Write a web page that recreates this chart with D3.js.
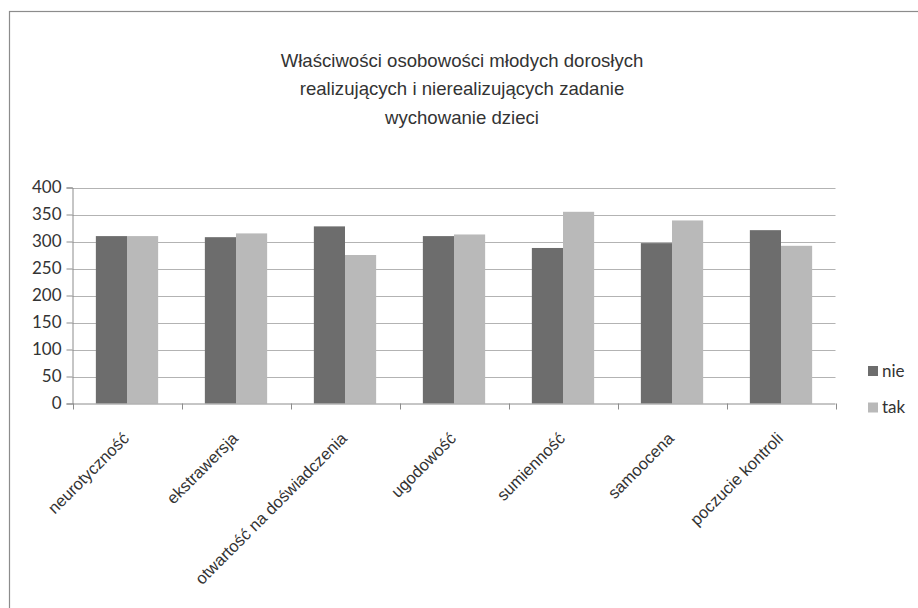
<!DOCTYPE html>
<html><head><meta charset="utf-8">
<script src="https://cdn.jsdelivr.net/npm/d3@7/dist/d3.min.js"></script>
<style>body{margin:0;background:#fff}svg{display:block}</style>
</head><body>
<svg id="c" width="918" height="608"></svg>
<script>
const categories = ["neurotyczność","ekstrawersja","otwartość na doświadczenia","ugodowość","sumienność","samoocena","poczucie kontroli"];
const seriesNames = ["nie","tak"];
const nieValues = [310,308,328,310,288,297,321];
const takValues = [310,315,275,313,355,339,292];
const yTicks = [0,50,100,150,200,250,300,350,400];
const titleLines = ["Właściwości osobowości młodych dorosłych","realizujących i nierealizujących zadanie","wychowanie dzieci"];
const colors = ["#6d6d6d","#b9b9b9"];

const svg = d3.select("#c");
const pL = 72.5, pR = 835.5, pT = 187.5, pB = 403.5;

svg.append("rect").attr("x",9.5).attr("y",11.5).attr("width",1000).attr("height",1000)
  .attr("fill","none").attr("stroke","#8c8c8c").attr("stroke-width",1.2);

const x = d3.scaleBand().domain(categories).range([pL,pR]).padding(0);
const barW = x.bandwidth()/3.5;
const xs = d3.scaleBand().domain(seriesNames).range([0, barW*2]);
const y = d3.scaleLinear().domain([0,400]).range([pB,pT]);

// gridlines
svg.append("g").selectAll("line").data(yTicks.filter(d=>d>0)).join("line")
  .attr("x1",pL).attr("x2",pR).attr("y1",d=>Math.round(y(d))+0.5).attr("y2",d=>Math.round(y(d))+0.5)
  .attr("stroke","#b3b3b3").attr("stroke-width",1);

// bars
const data = categories.map((c,i)=>({c, vals:[nieValues[i], takValues[i]]}));
const g = svg.append("g").selectAll("g").data(data).join("g")
  .attr("transform",d=>`translate(${x(d.c) + x.bandwidth()*0.75/3.5},0)`);
g.selectAll("rect").data(d=>d.vals.map((v,j)=>({v,s:seriesNames[j],j}))).join("rect")
  .attr("x",d=>xs(d.s)).attr("width",xs.bandwidth())
  .attr("y",d=>y(d.v)).attr("height",d=>y(0)-y(d.v))
  .attr("fill",d=>colors[d.j]);

// y axis
const yAxis = d3.axisLeft(y).tickValues(yTicks).tickSize(6).tickPadding(5);
const ya = svg.append("g").attr("transform",`translate(${pL},0)`).call(yAxis);
ya.select(".domain").attr("stroke","#8c8c8c");
ya.selectAll(".tick line").attr("stroke","#8c8c8c");
ya.selectAll(".tick text").attr("font-family","Lato, 'Open Sans', sans-serif").attr("font-size",17).attr("fill","#333");

// x axis
const xAxis = d3.axisBottom(x).tickSize(0).tickFormat("");
const xa = svg.append("g").attr("transform",`translate(0,${pB})`).call(xAxis);
xa.select(".domain").attr("stroke","#8c8c8c").attr("d",`M${pL},0.5H${pR}`);
xa.selectAll(".tick").remove();
const bounds = categories.map(c=>x(c)).concat([x(categories[categories.length-1])+x.bandwidth()]);
xa.selectAll("line.b").data(bounds).join("line").attr("class","b")
  .attr("x1",d=>Math.round(d)+0.5).attr("x2",d=>Math.round(d)+0.5).attr("y1",0).attr("y2",6)
  .attr("stroke","#8c8c8c");

// category labels
svg.append("g").selectAll("text").data(categories).join("text")
  .attr("transform",d=>`translate(${x(d)+x.bandwidth()/2+3},${pB+36}) rotate(-45)`)
  .attr("text-anchor","end")
  .attr("font-family","'Liberation Sans', Arial, sans-serif").attr("font-size",16.5).attr("fill","#333")
  .text(d=>d);

// title
svg.append("g").selectAll("text").data(titleLines).join("text")
  .attr("x",462).attr("y",(d,i)=>66.5+i*28.7).attr("text-anchor","middle")
  .attr("font-family","'Liberation Sans', Arial, sans-serif").attr("font-size",18.6).attr("fill","#333")
  .text(d=>d);

// legend
const lg = svg.append("g").selectAll("g").data(seriesNames).join("g")
  .attr("transform",(d,i)=>`translate(868,${366+i*36.5})`);
lg.append("rect").attr("width",10).attr("height",10).attr("fill",(d,i)=>colors[i]);
lg.append("text").attr("x",14).attr("y",10.5).attr("font-family","Lato, 'Open Sans', sans-serif")
  .attr("font-size",17).attr("fill","#333").text(d=>d);
</script>
</body></html>
